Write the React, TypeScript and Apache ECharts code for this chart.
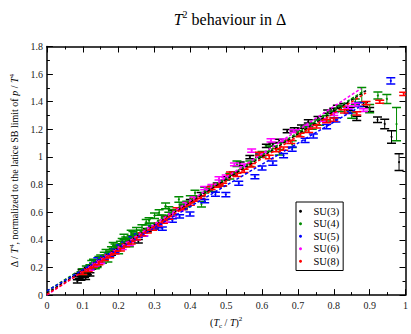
import React, { useEffect, useRef } from "react";
import * as echarts from "echarts";

const seriesNames = ["SU(3)", "SU(4)", "SU(5)", "SU(6)", "SU(8)"];
const seriesColors = ["#000000", "#008b00", "#0000ff", "#ff00ff", "#ff0000"];

// [x, y, error]
const su3: number[][] = [
  [0.085, 0.10, 0.012], [0.088, 0.145, 0.012], [0.09, 0.13, 0.012], [0.095, 0.12, 0.012],
  [0.098, 0.175, 0.012], [0.10, 0.16, 0.012], [0.105, 0.14, 0.012], [0.108, 0.125, 0.012],
  [0.11, 0.17, 0.012], [0.113, 0.16, 0.012], [0.115, 0.19, 0.012], [0.12, 0.15, 0.012],
  [0.125, 0.20, 0.012], [0.14, 0.22, 0.012], [0.16, 0.27, 0.012], [0.18, 0.30, 0.012],
  [0.21, 0.36, 0.012], [0.23, 0.40, 0.012], [0.255, 0.39, 0.012], [0.28, 0.47, 0.012],
  [0.30, 0.49, 0.012], [0.33, 0.56, 0.012], [0.35, 0.60, 0.012], [0.38, 0.64, 0.012],
  [0.40, 0.68, 0.012], [0.43, 0.73, 0.012], [0.45, 0.765, 0.012], [0.475, 0.80, 0.012],
  [0.499, 0.845, 0.012], [0.52, 0.88, 0.012], [0.539, 0.951, 0.012], [0.566, 0.999, 0.012],
  [0.593, 1.01, 0.012], [0.612, 1.081, 0.012], [0.63, 1.09, 0.012], [0.648, 1.117, 0.012],
  [0.67, 1.187, 0.012], [0.69, 1.2, 0.012], [0.71, 1.22, 0.012], [0.729, 1.258, 0.012],
  [0.756, 1.281, 0.012], [0.783, 1.328, 0.012], [0.80, 1.34, 0.012], [0.81, 1.363, 0.012],
  [0.828, 1.375, 0.012], [0.846, 1.347, 0.012], [0.864, 1.28, 0.015], [0.883, 1.38, 0.015],
  [0.9, 1.344, 0.015], [0.922, 1.269, 0.02], [0.942, 1.239, 0.035], [0.961, 1.145, 0.045],
  [0.982, 0.963, 0.06],
];
const su4: number[][] = [
  [0.10, 0.17, 0.02], [0.11, 0.19, 0.02], [0.12, 0.20, 0.02], [0.125, 0.23, 0.02],
  [0.13, 0.24, 0.02], [0.135, 0.21, 0.02], [0.14, 0.22, 0.02], [0.145, 0.26, 0.02],
  [0.15, 0.27, 0.02], [0.155, 0.25, 0.02], [0.16, 0.29, 0.02], [0.165, 0.31, 0.02],
  [0.17, 0.26, 0.02], [0.175, 0.30, 0.02], [0.18, 0.33, 0.02], [0.185, 0.36, 0.02],
  [0.19, 0.35, 0.02], [0.195, 0.34, 0.02], [0.20, 0.32, 0.02], [0.205, 0.37, 0.02],
  [0.21, 0.39, 0.02], [0.215, 0.42, 0.02], [0.22, 0.40, 0.02], [0.225, 0.39, 0.02],
  [0.23, 0.37, 0.02], [0.235, 0.45, 0.02], [0.24, 0.44, 0.02], [0.245, 0.42, 0.02],
  [0.25, 0.47, 0.02], [0.26, 0.45, 0.02], [0.265, 0.49, 0.02], [0.277, 0.528, 0.02],
  [0.285, 0.54, 0.02], [0.29, 0.50, 0.02], [0.30, 0.575, 0.02], [0.313, 0.598, 0.02],
  [0.32, 0.56, 0.02], [0.331, 0.646, 0.02], [0.34, 0.62, 0.02], [0.35, 0.60, 0.02],
  [0.368, 0.693, 0.02], [0.38, 0.64, 0.02], [0.39, 0.66, 0.02], [0.40, 0.70, 0.02],
  [0.413, 0.74, 0.02], [0.431, 0.658, 0.02], [0.44, 0.76, 0.02], [0.46, 0.77, 0.02],
  [0.49, 0.81, 0.02], [0.51, 0.86, 0.02], [0.53, 0.951, 0.02], [0.566, 0.951, 0.02],
  [0.60, 1.02, 0.02], [0.62, 1.06, 0.02], [0.648, 1.034, 0.02], [0.684, 1.093, 0.025],
  [0.70, 1.17, 0.02], [0.72, 1.2, 0.02], [0.74, 1.22, 0.02], [0.76, 1.25, 0.02],
  [0.78, 1.28, 0.02], [0.801, 1.304, 0.02], [0.82, 1.35, 0.02], [0.85, 1.30, 0.02],
  [0.86, 1.40, 0.02], [0.878, 1.45, 0.053], [0.90, 1.35, 0.03], [0.923, 1.445, 0.025],
  [0.948, 1.42, 0.033], [0.975, 1.238, 0.12],
];
const su5: number[][] = [
  [0.12, 0.20, 0.012], [0.13, 0.22, 0.012], [0.142, 0.258, 0.012], [0.15, 0.24, 0.012],
  [0.16, 0.27, 0.012], [0.175, 0.29, 0.012], [0.19, 0.32, 0.012], [0.205, 0.35, 0.012],
  [0.22, 0.37, 0.012], [0.24, 0.41, 0.012], [0.255, 0.43, 0.012], [0.27, 0.44, 0.012],
  [0.295, 0.49, 0.012], [0.31, 0.50, 0.012], [0.322, 0.481, 0.012], [0.35, 0.54, 0.012],
  [0.37, 0.57, 0.012], [0.399, 0.587, 0.015], [0.44, 0.68, 0.012], [0.47, 0.73, 0.015],
  [0.499, 0.728, 0.015], [0.535, 0.81, 0.015], [0.58, 0.857, 0.015], [0.60, 0.92, 0.015],
  [0.63, 0.956, 0.015], [0.66, 1.01, 0.015], [0.684, 1.057, 0.015], [0.72, 1.12, 0.015],
  [0.743, 1.152, 0.015], [0.78, 1.22, 0.015], [0.806, 1.269, 0.015], [0.84, 1.33, 0.015],
  [0.87, 1.38, 0.015], [0.959, 1.551, 0.023],
];
const su6: number[][] = [
  [0.12, 0.19, 0.01], [0.135, 0.22, 0.01], [0.15, 0.24, 0.01], [0.17, 0.28, 0.01],
  [0.19, 0.31, 0.01], [0.21, 0.34, 0.01], [0.23, 0.37, 0.01], [0.25, 0.41, 0.01],
  [0.27, 0.44, 0.01], [0.29, 0.48, 0.01], [0.31, 0.51, 0.01], [0.33, 0.54, 0.01],
  [0.35, 0.58, 0.01], [0.37, 0.62, 0.01], [0.39, 0.66, 0.01], [0.41, 0.70, 0.01],
  [0.44, 0.775, 0.012], [0.46, 0.79, 0.01], [0.48, 0.845, 0.012], [0.50, 0.86, 0.01],
  [0.523, 0.947, 0.01], [0.55, 0.94, 0.01], [0.571, 1.046, 0.012], [0.60, 1.02, 0.01],
  [0.625, 1.12, 0.012], [0.66, 1.12, 0.01], [0.688, 1.187, 0.01], [0.73, 1.22, 0.01],
  [0.77, 1.269, 0.01], [0.80, 1.31, 0.01], [0.84, 1.36, 0.01], [0.86, 1.38, 0.01],
  [0.883, 1.34, 0.01],
];
const su8: number[][] = [
  [0.10, 0.16, 0.01], [0.115, 0.18, 0.01], [0.13, 0.21, 0.01], [0.145, 0.23, 0.01],
  [0.16, 0.26, 0.01], [0.175, 0.28, 0.01], [0.19, 0.31, 0.01], [0.205, 0.33, 0.01],
  [0.22, 0.36, 0.01], [0.235, 0.38, 0.01], [0.25, 0.41, 0.01], [0.265, 0.44, 0.01],
  [0.28, 0.46, 0.01], [0.295, 0.48, 0.01], [0.31, 0.51, 0.01], [0.325, 0.53, 0.01],
  [0.34, 0.56, 0.01], [0.363, 0.622, 0.01], [0.38, 0.63, 0.01], [0.40, 0.66, 0.01],
  [0.415, 0.69, 0.01], [0.43, 0.71, 0.01], [0.458, 0.775, 0.01], [0.475, 0.79, 0.01],
  [0.49, 0.80, 0.01], [0.512, 0.881, 0.01], [0.53, 0.87, 0.012], [0.55, 0.90, 0.012],
  [0.57, 0.94, 0.012], [0.593, 1.022, 0.012], [0.62, 1.0, 0.012], [0.64, 1.05, 0.012],
  [0.66, 1.06, 0.012], [0.68, 1.11, 0.012], [0.706, 1.159, 0.012], [0.73, 1.19, 0.012],
  [0.752, 1.222, 0.012], [0.78, 1.26, 0.012], [0.80, 1.27, 0.012], [0.83, 1.33, 0.012],
  [0.864, 1.316, 0.012], [0.89, 1.39, 0.012], [0.928, 1.40, 0.01], [0.995, 1.457, 0.012],
];
const seriesData = [su3, su4, su5, su6, su8];

// linear fits: start at x=0, end at fitEndX
const fitStartY = [0.015, 0.03, 0.03, 0.0, 0.005];
const fitEndX = [0.89, 0.885, 0.87, 0.876, 0.89];
const fitEndY = [1.48, 1.48, 1.36, 1.495, 1.465];

const xTicks = { min: 0, max: 1, interval: 0.1 };
const yTicks = { min: 0, max: 1.8, interval: 0.2 };

const FONT = "Liberation Serif";

export default function App() {
  const ref = useRef<HTMLDivElement>(null);
  useEffect(() => {
    if (!ref.current) return;
    const chart = echarts.init(ref.current, undefined, { renderer: "svg" });

    const makeRender = (color: string) => (params: any, api: any) => {
      const x = api.value(0);
      const y = api.value(1);
      const e = api.value(2);
      const p = api.coord([x, y]);
      const t = api.coord([x, y + e]);
      const b = api.coord([x, y - e]);
      const hw = 4.5;
      return {
        type: "group",
        children: [
          { type: "line", shape: { x1: p[0], y1: t[1], x2: p[0], y2: b[1] }, style: { stroke: color, lineWidth: 1 } },
          { type: "line", shape: { x1: p[0] - hw, y1: t[1], x2: p[0] + hw, y2: t[1] }, style: { stroke: color, lineWidth: 1.5 } },
          { type: "line", shape: { x1: p[0] - hw, y1: b[1], x2: p[0] + hw, y2: b[1] }, style: { stroke: color, lineWidth: 1.5 } },
          { type: "circle", shape: { cx: p[0], cy: p[1], r: 1 }, style: { fill: color } },
        ],
      };
    };

    const pointSeries = seriesNames.map((name, i) => ({
      name,
      type: "custom",
      clip: true,
      itemStyle: { color: seriesColors[i] },
      renderItem: makeRender(seriesColors[i]),
      data: seriesData[i],
      encode: { x: 0, y: 1 },
      z: 2,
    }));

    const fitSeries = seriesNames.map((name, i) => ({
      name: name + " fit",
      type: "line",
      data: [[0, fitStartY[i]], [fitEndX[i], fitEndY[i]]],
      symbol: "none",
      lineStyle: { color: seriesColors[i], width: 1.5, type: [3, 2] },
      z: 3,
      silent: true,
    }));

    const axisCommon = {
      axisLine: { show: true, onZero: false, lineStyle: { color: "#000", width: 1.5 } },
      axisTick: { show: true, inside: true, length: 6, lineStyle: { color: "#000", width: 1 } },
      minorTick: { show: true, splitNumber: 2, length: 3, lineStyle: { color: "#000", width: 1 } },
      splitLine: { show: false },
      minorSplitLine: { show: false },
    };

    chart.setOption({
      animation: false,
      backgroundColor: "#fff",
      title: {
        text: "{i|T}{sup|2}{n| behaviour in Δ}",
        left: 225,
        textAlign: "center",
        top: 4,
        textStyle: {
          fontWeight: "normal",
          rich: {
            i: { fontFamily: FONT, fontSize: 16, fontStyle: "italic", fontWeight: "normal", color: "#000", lineHeight: 20 },
            sup: { fontFamily: FONT, fontSize: 10, fontWeight: "normal", color: "#000", verticalAlign: "top", lineHeight: 20 },
            n: { fontFamily: FONT, fontSize: 16, fontWeight: "normal", color: "#000", lineHeight: 20 },
          },
        },
      },
      legend: {
        data: seriesNames,
        orient: "vertical",
        left: 296,
        top: 202,
        icon: "circle",
        itemWidth: 16,
        itemHeight: 3,
        itemGap: 0,
        padding: [3, 4, 3, 3],
        borderColor: "#000",
        borderWidth: 1,
        backgroundColor: "#fff",
        textStyle: { fontFamily: FONT, fontSize: 10.5, color: "#000", lineHeight: 12.5 },
      },
      grid: { left: 41, right: 1.5, top: 46.5, bottom: 32.5 },
      xAxis: [
        {
          type: "value",
          ...xTicks,
          ...axisCommon,
          position: "bottom",
          name: "{n|(}{i|T}{sub|c}{n| / }{i|T}{n|)}{sup|2}",
          nameLocation: "middle",
          nameGap: 15,
          nameTextStyle: {
            rich: {
              n: { fontFamily: FONT, fontSize: 10, color: "#000", lineHeight: 14 },
              i: { fontFamily: FONT, fontSize: 10, fontStyle: "italic", color: "#000", lineHeight: 14 },
              sub: { fontFamily: FONT, fontSize: 7, color: "#000", verticalAlign: "bottom", lineHeight: 14 },
              sup: { fontFamily: FONT, fontSize: 7, color: "#000", verticalAlign: "top", lineHeight: 14 },
            },
          },
          axisLabel: {
            fontFamily: FONT,
            fontSize: 10,
            color: "#222",
            margin: 5,
            formatter: (v: number) => (v === 0 ? "0" : v === 1 ? "1" : v.toFixed(1)),
          },
        },
        {
          type: "value",
          ...xTicks,
          ...axisCommon,
          position: "top",
          axisLabel: { show: false },
        },
      ],
      yAxis: [
        {
          type: "value",
          ...yTicks,
          ...axisCommon,
          position: "left",
          name: "{n|Δ / }{i|T}{sup|4}{n|, normalized to the latice SB limit of }{i|p}{n| / }{i|T}{sup|4}",
          nameLocation: "middle",
          nameGap: 22,
          nameRotate: 90,
          nameTextStyle: {
            rich: {
              n: { fontFamily: FONT, fontSize: 10, color: "#000", lineHeight: 13 },
              i: { fontFamily: FONT, fontSize: 10, fontStyle: "italic", color: "#000", lineHeight: 13 },
              sup: { fontFamily: FONT, fontSize: 7, color: "#000", verticalAlign: "top", lineHeight: 13 },
            },
          },
          axisLabel: {
            fontFamily: FONT,
            fontSize: 10,
            color: "#222",
            margin: 4,
            formatter: (v: number) => (v === 0 ? "0" : v === 1 ? "1" : v.toFixed(1)),
          },
        },
        {
          type: "value",
          ...yTicks,
          ...axisCommon,
          position: "right",
          axisLabel: { show: false },
        },
      ],
      series: [...pointSeries, ...fitSeries],
    });
    return () => chart.dispose();
  }, []);
  return <div ref={ref} style={{ position: "fixed", left: 0, top: 0, width: 411, height: 334 }} />;
}
